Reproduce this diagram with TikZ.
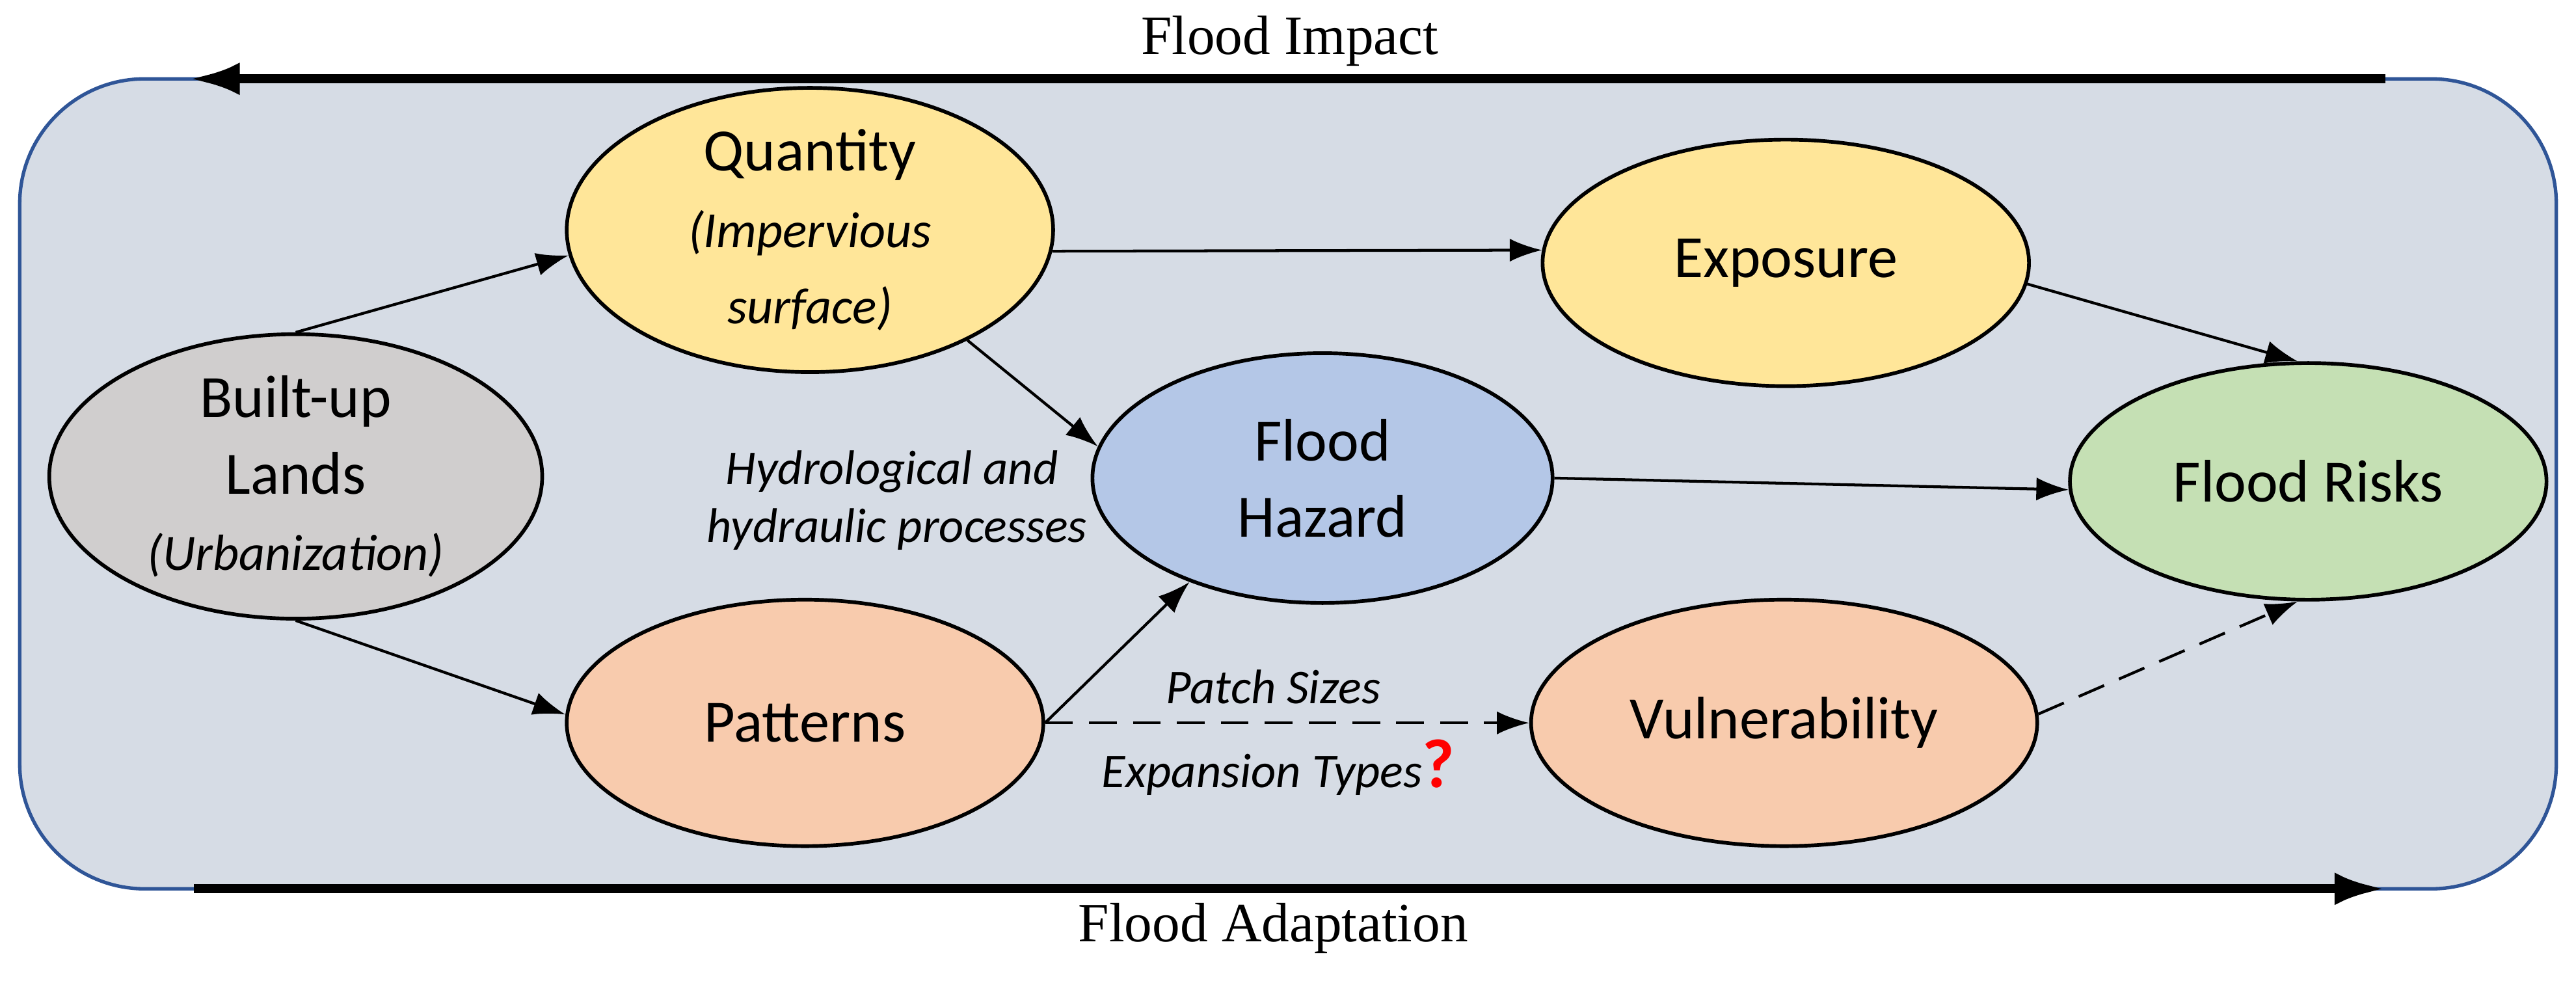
\documentclass[tikz,border=0pt]{standalone}
\usepackage{fontspec}
\setmainfont{Carlito}
\newfontfamily\serifx{Liberation Serif}
\usetikzlibrary{shapes.geometric,arrows.meta}
\definecolor{bg}{RGB}{214,220,229}
\definecolor{bd}{RGB}{47,85,151}
\definecolor{cgray}{RGB}{208,206,206}
\definecolor{cyel}{RGB}{255,230,153}
\definecolor{cblue}{RGB}{180,199,231}
\definecolor{cgreen}{RGB}{197,224,180}
\definecolor{corg}{RGB}{248,203,173}
\begin{document}
\begin{tikzpicture}[x=0.025cm,y=-0.025cm,
  el/.style={ellipse,draw=black,line width=1.6pt,inner sep=0pt,align=center,font=\fontsize{26}{33}\selectfont},
  con/.style={line width=1.2pt,-{Latex[length=14pt,width=10pt]}},
  dcon/.style={con,dash pattern=on 12pt off 7pt},
  big/.style={line width=4pt,-{Latex[length=22pt,width=14pt]}},
  lab/.style={font=\fontsize{21}{26}\selectfont\itshape},
  ttl/.style={font=\serifx\fontsize{24}{28}\selectfont}]
\useasboundingbox (0,0) rectangle (1568,597);
\draw[fill=bg,draw=bd,line width=1.5pt,rounded corners=1.9cm] (12,48) rectangle (1556,541);
\coordinate (t1) at (1452,48); \coordinate (t2) at (115,48);
\coordinate (b1) at (118,541); \coordinate (b2) at (1452,541);
\draw[big] (t1) -- (t2);
\draw[big] (b1) -- (b2);
\node[ttl] (ti) at (785,25) {Flood Impact};
\node[ttl] (ta) at (775,565) {Flood Adaptation};
\node[el,fill=cgray,minimum width=7.5cm,minimum height=4.1cm] (bu) at (180,290) {Built-up\\Lands\\{\fontsize{22}{30}\selectfont\itshape(Urbanization)}};
\node[el,fill=cyel,minimum width=7.4cm,minimum height=3.75cm] (q) at (493,140) {Quantity\\{\fontsize{22}{30}\selectfont\itshape(Impervious}\\{\fontsize{22}{30}\selectfont\itshape surface)}};
\node[el,fill=cyel,minimum width=7.4cm,minimum height=3.75cm] (e) at (1087,160) {Exposure};
\node[el,fill=cblue,minimum width=7cm,minimum height=3.8cm] (h) at (805,291) {Flood\\Hazard};
\node[el,fill=cgreen,minimum width=7.25cm,minimum height=3.6cm] (r) at (1405,293) {Flood Risks};
\node[el,fill=corg,minimum width=7.25cm,minimum height=3.75cm] (p) at (490,440) {Patterns};
\node[el,fill=corg,minimum width=7.7cm,minimum height=3.75cm] (v) at (1086,440) {Vulnerability};
\draw[con] (bu.north) -- (q.186);
\draw[con] (bu.south) -- (p.178);
\draw[con] (q.-5) -- (e.177);
\draw[con] (q.-35) -- (h.172);
\draw[con] (p.0) -- (h.-142);
\draw[con] (h.0) -- (r.182);
\draw[con] (e.-5) -- (r.95);
\draw[dcon] (p.0) -- (v.180);
\draw[dcon] (v.2) -- (r.-95);
\node[lab] (l1) at (543,287) {Hydrological and};
\node[lab] (l2) at (546,322) {hydraulic processes};
\node[lab] (l3) at (775,418) {Patch Sizes};
\node[lab] (l4) at (778,467) {Expansion Types\textcolor{red}{\upshape\bfseries\fontsize{30}{30}\selectfont ?}};
\end{tikzpicture}
\end{document}
